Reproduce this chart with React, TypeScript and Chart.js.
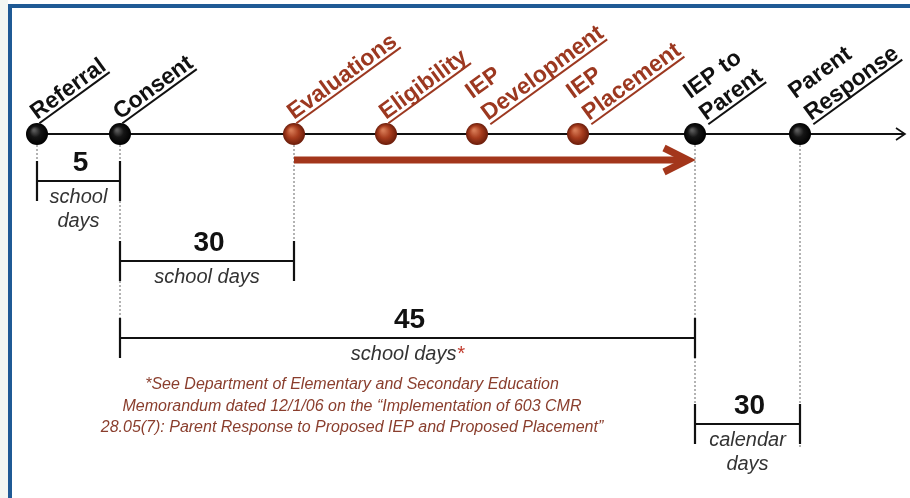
import React, { useEffect, useRef } from 'react';
import { Chart, registerables } from 'chart.js';

Chart.register(...registerables);

// ---------- data ----------
const milestones = ['Referral', 'Consent', 'Evaluations', 'Eligibility', 'IEP\nDevelopment', 'IEP\nPlacement', 'IEP to\nParent', 'Parent\nResponse'];
const milestonePhase = ['request', 'request', 'evaluation', 'evaluation', 'evaluation', 'evaluation', 'proposal', 'proposal'];
const milestonePos = [37, 120, 294, 386, 477, 578, 695, 800];

const spanFrom = [0, 1, 1, 6];
const spanTo = [1, 2, 6, 7];
const spanValue = ['5', '30', '45', '30'];
const spanUnit = ['school\ndays', 'school days', 'school days*', 'calendar\ndays'];

const evalFrom = 2;
const evalTo = 6;

const footnote = [
  '*See Department of Elementary and Secondary Education',
  'Memorandum dated 12/1/06 on the \u201CImplementation of 603 CMR',
  '28.05(7): Parent Response to Proposed IEP and Proposed Placement\u201D',
];

// ---------- layout / style ----------
const W = 910;
const H = 498;
const TIMELINE_Y = 134;
const AXIS_END = 905;
const BALL_R = 11;
const SPAN_LEVEL = [181, 261, 338, 424];
const TICK_HALF = 20;
const EVAL_ARROW_Y = 160;
const FONT = '"Liberation Sans", Arial, Helvetica, sans-serif';
const RED = '#9c3820';
const ARROW_RED = '#a3361b';
const NOTE_RED = '#8a3e2d';
const LABEL_ANGLE = -36 * Math.PI / 180;
const FOOT_X = 352;
const FOOT_Y = [385, 407, 428];

function makeBall(kind: 'black' | 'red'): HTMLCanvasElement {
  const size = BALL_R * 2 + 2;
  const c = document.createElement('canvas');
  c.width = size;
  c.height = size;
  const g = c.getContext('2d')!;
  const cx = size / 2;
  const grad = g.createRadialGradient(cx - 3, cx - 4, 1, cx, cx, BALL_R);
  if (kind === 'black') {
    grad.addColorStop(0, '#5a5a5a');
    grad.addColorStop(0.45, '#151515');
    grad.addColorStop(1, '#000000');
  } else {
    grad.addColorStop(0, '#d77a55');
    grad.addColorStop(0.5, '#a83d1e');
    grad.addColorStop(1, '#6a1c0a');
  }
  g.fillStyle = grad;
  g.beginPath();
  g.arc(cx, cx, BALL_R, 0, Math.PI * 2);
  g.fill();
  return c;
}

function seg(points: { x: number; y: number }[], color: string, width: number, order: number, extra: any = {}) {
  return {
    type: 'scatter' as const,
    data: points,
    showLine: true,
    borderColor: color,
    backgroundColor: color,
    borderWidth: width,
    pointRadius: 0,
    pointHoverRadius: 0,
    fill: false,
    tension: 0,
    order,
    ...extra,
  };
}

export default function App() {
  const ref = useRef<HTMLCanvasElement>(null);

  useEffect(() => {
    const canvas = ref.current!;
    const blackBall = makeBall('black');
    const redBall = makeBall('red');

    const datasets: any[] = [];

    // balls (top)
    datasets.push({
      type: 'scatter',
      data: milestonePos.map((x) => ({ x, y: TIMELINE_Y })),
      pointStyle: milestonePhase.map((p) => (p === 'evaluation' ? redBall : blackBall)),
      pointRadius: BALL_R,
      pointHoverRadius: BALL_R,
      showLine: false,
      order: 0,
    });

    // timeline
    datasets.push(seg([{ x: milestonePos[0], y: TIMELINE_Y }, { x: AXIS_END - 1, y: TIMELINE_Y }], '#111', 2, 5));
    datasets.push(seg([{ x: AXIS_END - 9, y: TIMELINE_Y - 6 }, { x: AXIS_END, y: TIMELINE_Y }, { x: AXIS_END - 9, y: TIMELINE_Y + 6 }], '#111', 1.6, 5));

    // evaluation arrow
    const ax0 = milestonePos[evalFrom];
    const ax1 = milestonePos[evalTo] - 4;
    datasets.push(seg([{ x: ax0, y: EVAL_ARROW_Y }, { x: ax1 - 6, y: EVAL_ARROW_Y }], ARROW_RED, 7, 4));
    datasets.push(seg([{ x: ax1 - 27, y: EVAL_ARROW_Y - 12 }, { x: ax1 - 3, y: EVAL_ARROW_Y }, { x: ax1 - 27, y: EVAL_ARROW_Y + 12 }], ARROW_RED, 7, 4, { borderJoinStyle: 'miter', borderCapStyle: 'butt' }));

    // dotted verticals: from each ball down to the deepest bracket touching it
    milestonePos.forEach((x, i) => {
      let deepest = -1;
      spanFrom.forEach((f, k) => {
        if (f === i || spanTo[k] === i) deepest = Math.max(deepest, SPAN_LEVEL[k] - TICK_HALF);
      });
      if (i === evalFrom) deepest = Math.max(deepest, SPAN_LEVEL[1] - TICK_HALF);
      if (deepest < 0) return;
      const extraBottom = i === milestonePos.length - 1 ? 45 : 0;
      datasets.push(seg([{ x, y: TIMELINE_Y + BALL_R }, { x, y: deepest + extraBottom }], '#8a8a8a', 1.3, 8, { borderDash: [2, 2] }));
    });

    // brackets
    spanFrom.forEach((f, k) => {
      const x0 = milestonePos[f];
      const x1 = milestonePos[spanTo[k]];
      const y = SPAN_LEVEL[k];
      datasets.push(seg([{ x: x0, y }, { x: x1, y }], '#111', 2, 6));
      datasets.push(seg([{ x: x0, y: y - TICK_HALF }, { x: x0, y: y + TICK_HALF }], '#111', 2.2, 6));
      datasets.push(seg([{ x: x1, y: y - TICK_HALF }, { x: x1, y: y + TICK_HALF }], '#111', 2.2, 6));
    });

    const framePlugin = {
      id: 'frame',
      beforeDraw(chart: any) {
        const ctx = chart.ctx;
        ctx.save();
        ctx.fillStyle = '#ffffff';
        ctx.fillRect(0, 0, W, H);
        ctx.fillStyle = '#f3f7f3';
        ctx.fillRect(0, 0, 8, H);
        ctx.fillStyle = '#1f5a95';
        ctx.fillRect(8, 4, W - 8, 4);
        ctx.fillRect(8, 4, 4, H - 4);
        ctx.restore();
      },
    };

    const textPlugin = {
      id: 'texts',
      afterDatasetsDraw(chart: any) {
        const ctx = chart.ctx as CanvasRenderingContext2D;
        const xs = chart.scales.x;
        const ys = chart.scales.y;
        const py = ys.getPixelForValue(TIMELINE_Y);

        // milestone labels
        milestones.forEach((label, i) => {
          const lines = label.split('\n');
          const n = lines.length;
          const px = xs.getPixelForValue(milestonePos[i]);
          const ox = n > 1 ? 11 : 0;
          const oy = n > 1 ? -13 : -14;
          ctx.save();
          ctx.translate(px + ox, py + oy);
          ctx.rotate(LABEL_ANGLE);
          ctx.font = `bold 23px ${FONT}`;
          ctx.textAlign = 'left';
          ctx.textBaseline = 'alphabetic';
          const color = milestonePhase[i] === 'evaluation' ? RED : '#111';
          ctx.fillStyle = color;
          lines.forEach((t, j) => {
            const y = -(n - 1 - j) * 27;
            ctx.fillText(t, 0, y);
            if (j === n - 1) {
              const w = ctx.measureText(t).width;
              ctx.fillRect(0, y + 3, w, 2);
            }
          });
          ctx.restore();
        });

        // bracket texts
        spanFrom.forEach((f, k) => {
          const cx = (xs.getPixelForValue(milestonePos[f]) + xs.getPixelForValue(milestonePos[spanTo[k]])) / 2;
          const y = ys.getPixelForValue(SPAN_LEVEL[k]);
          ctx.save();
          ctx.textBaseline = 'middle';
          ctx.textAlign = 'center';
          ctx.fillStyle = '#111';
          ctx.font = `bold 28px ${FONT}`;
          ctx.fillText(spanValue[k], cx + 2, y - 18);
          ctx.font = `italic 20px ${FONT}`;
          ctx.fillStyle = '#333';
          spanUnit[k].split('\n').forEach((t, j) => {
            const ty = y + 16 + j * 24;
            if (t.endsWith('*')) {
              const base = t.slice(0, -1);
              const wb = ctx.measureText(base).width;
              const wa = ctx.measureText('*').width;
              const sx = cx - (wb + wa) / 2;
              ctx.textAlign = 'left';
              ctx.fillText(base, sx, ty);
              ctx.fillStyle = '#c0392b';
              ctx.fillText('*', sx + wb, ty);
              ctx.fillStyle = '#333';
              ctx.textAlign = 'center';
            } else {
              ctx.fillText(t, cx, ty);
            }
          });
          ctx.restore();
        });

        // footnote
        ctx.save();
        ctx.font = `italic 16px ${FONT}`;
        ctx.fillStyle = NOTE_RED;
        ctx.textAlign = 'center';
        ctx.textBaseline = 'middle';
        footnote.forEach((t, j) => {
          ctx.fillText(t, xs.getPixelForValue(FOOT_X), ys.getPixelForValue(FOOT_Y[j]));
        });
        ctx.restore();
      },
    };

    const chart = new Chart(canvas, {
      type: 'scatter',
      data: { datasets },
      options: {
        animation: false,
        responsive: false,
        maintainAspectRatio: false,
        events: [],
        layout: { padding: 0, autoPadding: false },
        plugins: { legend: { display: false }, tooltip: { enabled: false }, title: { display: false } },
        scales: {
          x: { type: 'linear', min: 0, max: W, display: false },
          y: { type: 'linear', min: 0, max: H, reverse: true, display: false },
        },
      },
      plugins: [framePlugin, textPlugin],
    } as any);

    return () => chart.destroy();
  }, []);

  return (
    <div style={{ position: 'fixed', left: 0, top: 0, width: W, height: H, margin: 0, padding: 0 }}>
      <canvas ref={ref} width={W} height={H} style={{ display: 'block', width: W, height: H }} />
    </div>
  );
}
